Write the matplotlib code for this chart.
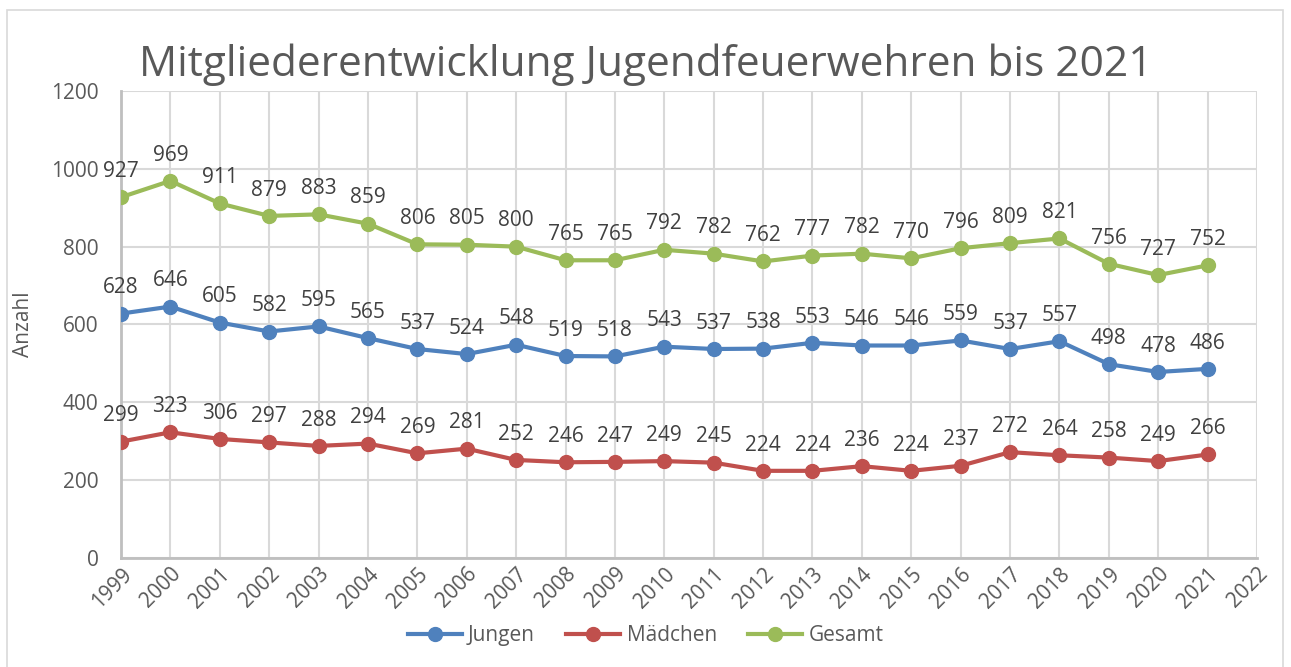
import matplotlib.pyplot as plt
from matplotlib.patches import Rectangle

years = list(range(1999, 2022))
tick_years = list(range(1999, 2023))
jungen = [628, 646, 605, 582, 595, 565, 537, 524, 548, 519, 518, 543, 537, 538, 553, 546, 546, 559, 537, 557, 498, 478, 486]
maedchen = [299, 323, 306, 297, 288, 294, 269, 281, 252, 246, 247, 249, 245, 224, 224, 236, 224, 237, 272, 264, 258, 249, 266]
gesamt = [927, 969, 911, 879, 883, 859, 806, 805, 800, 765, 765, 792, 782, 762, 777, 782, 770, 796, 809, 821, 756, 727, 752]

series = [("Jungen", jungen, "#4F81BD"), ("Mädchen", maedchen, "#C0504D"), ("Gesamt", gesamt, "#9BBB59")]

plt.rcParams['font.family'] = ['Open Sans', 'DejaVu Sans']
txt = "#595959"

def main():
    fig = plt.figure(figsize=(12.91, 6.67), dpi=100)
    ax = fig.add_axes([0.0937, 0.1634, 0.88, 0.7002])
    fig.patches.append(Rectangle((0.0055, -0.01), 0.988, 0.995, transform=fig.transFigure,
                                 fill=False, edgecolor="#d9d9d9", linewidth=1.2))

    for name, vals, col in series:
        ax.plot(years, vals, color=col, linewidth=3, marker="o", markersize=10, label=name, zorder=3)
        for x, y in zip(years, vals):
            ax.annotate(str(y), (x, y), xytext=(0, 11), textcoords="offset points",
                        ha="center", va="bottom", fontsize=15, color="#404040")

    ax.set_xlim(1999, 2022)
    ax.set_ylim(0, 1200)
    ax.set_xticks(tick_years)
    ax.set_xticklabels([str(t) for t in tick_years], rotation=45, ha="right",
                       rotation_mode="anchor", fontsize=15, color=txt)
    ax.set_yticks(range(0, 1201, 200))
    ax.tick_params(axis="y", labelsize=15, labelcolor=txt, length=0, pad=16)
    ax.tick_params(axis="x", length=0, pad=4)
    ax.grid(True, color="#d9d9d9", linewidth=1.5)
    ax.set_axisbelow(True)
    for s in ["top", "right"]:
        ax.spines[s].set_visible(False)
    for s in ["left", "bottom"]:
        ax.spines[s].set_color("#bfbfbf")
        ax.spines[s].set_linewidth(2)
    ax.set_ylabel("Anzahl", fontsize=15, color=txt, labelpad=12)

    fig.suptitle("Mitgliederentwicklung Jugendfeuerwehren bis 2021", fontsize=30.5, color=txt, y=0.935)
    fig.legend(loc="lower center", bbox_to_anchor=(0.5, 0.003), ncol=3, frameon=False,
               fontsize=15, labelcolor=txt, handlelength=2.6, columnspacing=1.5, handletextpad=0.3)

    fig.savefig("out.png", dpi=100)

if __name__ == "__main__":
    main()
